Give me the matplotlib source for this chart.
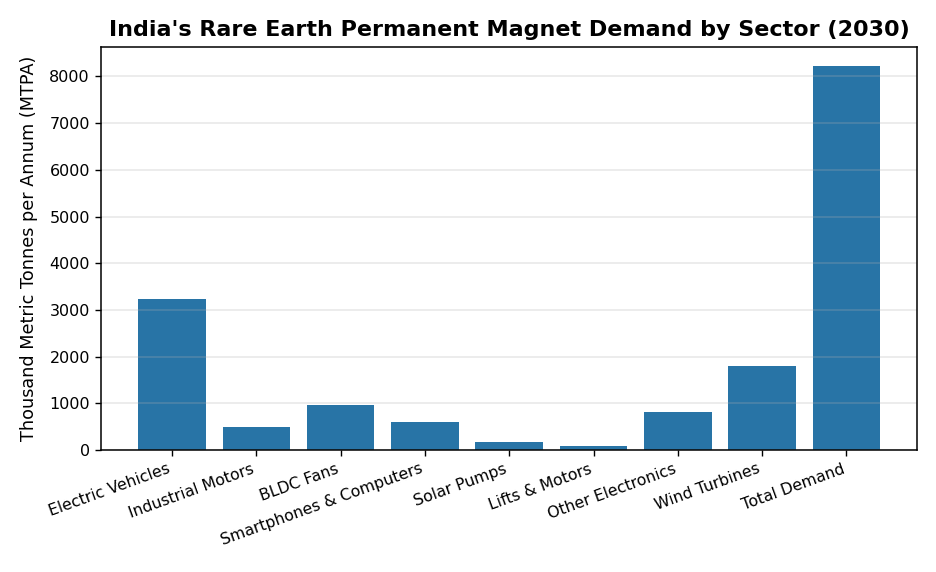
import matplotlib
matplotlib.use("Agg")
import matplotlib.pyplot as plt

# ---------- data ---------- #
sectors = ["Electric Vehicles", "Industrial Motors", "BLDC Fans",
           "Smartphones & Computers", "Solar Pumps", "Lifts & Motors",
           "Other Electronics", "Wind Turbines", "Total Demand"]
demand = [3240, 500, 970, 600, 180, 90, 820, 1800, 8220]

# ---------- plot ---------- #
fig, ax = plt.subplots(figsize=(9.36, 5.72), dpi=100)
ax.bar(sectors, demand, color="#2874A6", width=0.8)
ax.grid(axis="y", color="#b0b0b0", linewidth=1.1, alpha=0.3)
ax.set_ylabel("Thousand Metric Tonnes per Annum (MTPA)", fontsize=12.7,
              labelpad=8)
ax.set_title("India's Rare Earth Permanent Magnet Demand by Sector (2030)",
             fontsize=16, fontweight="bold", pad=8)
plt.xticks(rotation=20, ha="right", fontsize=11.3)
plt.yticks(fontsize=11.5)
ax.tick_params(length=4.5, width=1)
for s in ax.spines.values():
    s.set_linewidth(1.1)
plt.subplots_adjust(left=0.108, right=0.98, top=0.918, bottom=0.213)
plt.savefig("out.png", dpi=100)
